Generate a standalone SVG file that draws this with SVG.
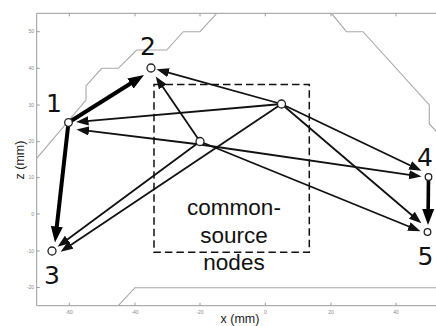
<svg xmlns="http://www.w3.org/2000/svg" width="436" height="326" viewBox="0 0 436 326">
  <style>
    .frame { stroke: #9a9a9a; stroke-width: 1; fill: none; }
    .tick { stroke: #9a9a9a; stroke-width: 1; }
    .ticklbl { font-family: "Liberation Sans", Arial, sans-serif; font-size: 5px; fill: #888; }
    .axlbl { font-family: "Liberation Sans", Arial, sans-serif; font-size: 12.5px; fill: #222; }
    .outline { stroke: #a8a8a8; stroke-width: 1.1; fill: none; }
    .box { stroke: #111; stroke-width: 1.5; fill: none; stroke-dasharray: 7.5 4; }
    .edge { stroke: #111; stroke-width: 1.8; fill: none; }
    .strong { stroke: #000; stroke-width: 4; fill: none; }
    .node { fill: #fff; stroke: #222; stroke-width: 1.3; }
    .num { font-family: "DejaVu Sans", sans-serif; font-size: 25px; fill: #111; text-anchor: middle; }
    .note { font-family: "Liberation Sans", Arial, sans-serif; font-size: 22.5px; fill: #111; text-anchor: middle; }
  </style>
  <defs>
    <marker id="head" markerUnits="userSpaceOnUse" markerWidth="13" markerHeight="10" refX="2" refY="4.6" orient="auto">
      <path d="M0,0 L12.5,4.6 L0,9.2 z" fill="#111"/>
    </marker>
    <marker id="headBig" markerUnits="userSpaceOnUse" markerWidth="16" markerHeight="12" refX="2" refY="6" orient="auto">
      <path d="M0,0 L16,6 L0,12 z" fill="#000"/>
    </marker>
  </defs>

  <!-- plot frame -->
  <g id="axes">
    <path class="frame" d="M436,13.3 H36.7 V305.7 H436"/>
    <g class="tick">
      <path d="M69.3,13.3 v3 M135,13.3 v3 M200,13.3 v3 M265.3,13.3 v3 M331,13.3 v3 M396,13.3 v3"/>
      <path d="M69.3,305.7 v-3 M135,305.7 v-3 M200,305.7 v-3 M265.3,305.7 v-3 M331,305.7 v-3 M396,305.7 v-3"/>
      <path d="M36.7,31.7 h3 M36.7,68.3 h3 M36.7,105 h3 M36.7,141.7 h3 M36.7,177.7 h3 M36.7,214 h3 M36.7,251 h3 M36.7,287.5 h3"/>
    </g>
    <g class="ticklbl" text-anchor="end">
      <text x="34" y="33.4">50</text>
      <text x="34" y="70">40</text>
      <text x="34" y="106.7">30</text>
      <text x="34" y="143.4">20</text>
      <text x="34" y="179.4">10</text>
      <text x="34" y="215.7">0</text>
      <text x="34" y="252.7">-10</text>
      <text x="34" y="289.2">-20</text>
    </g>
    <g class="ticklbl" text-anchor="middle">
      <text x="69.3" y="314">-60</text>
      <text x="135" y="314">-40</text>
      <text x="200" y="314">-20</text>
      <text x="265.3" y="314">0</text>
      <text x="331" y="314">20</text>
      <text x="396" y="314">40</text>
    </g>
    <text class="axlbl" x="240" y="322.5" text-anchor="middle">x (mm)</text>
    <text class="axlbl" transform="translate(24,160) rotate(-90)" text-anchor="middle">z (mm)</text>
  </g>

  <!-- boundary outline -->
  <g id="outline">
    <polyline class="outline" points="36.7,158.3 86,100 86,86 101.7,68.3 118.3,68.3 136.7,50 166.7,50 183.3,31.7 200,31.7 216.7,13.3"/>
    <polyline class="outline" points="331.5,13.3 346.5,31.7 363,31.7 429.3,105 429.3,124 436,131"/>
    <polyline class="outline" points="118.3,305.7 135,287.7 436,287.7"/>
  </g>

  <!-- common-source region -->
  <g id="source-region">
    <rect class="box" x="154" y="84.5" width="155.3" height="167.8"/>
    <text class="note" x="234" y="215">common-</text>
    <text class="note" x="234" y="242.5">source</text>
    <text class="note" x="234" y="270">nodes</text>
  </g>

  <!-- connectors -->
  <g id="connectors">
    <path class="strong" d="M68.5,122.5 L132.15,82.46" marker-end="url(#headBig)"/>
    <path class="strong" d="M68.5,122.5 L56.57,228.59" marker-end="url(#headBig)"/>
    <path class="strong" style="stroke-width:3.6" d="M428.5,177 L428.15,211" marker-end="url(#headBig)"/>

    <path class="edge" d="M281.5,104 L166.64,72.17" marker-end="url(#head)"/>
    <path class="edge" d="M200,141.5 L161.64,85.26" marker-end="url(#head)"/>
    <path class="edge" d="M281.5,104 L86.46,121.13" marker-end="url(#head)"/>
    <path class="edge" d="M200,144.5 L86.93,130.71" marker-end="url(#head)"/>
    <path class="edge" d="M200,144.5 L411.1,175.07" marker-end="url(#head)"/>
    <path class="edge" d="M281.5,104 L411.97,166.2" marker-end="url(#head)"/>
    <path class="edge" d="M281.5,104 L413.39,216.51" marker-end="url(#head)"/>
    <path class="edge" d="M200,141.5 L410.74,227.23" marker-end="url(#head)"/>
    <path class="edge" d="M200,141.5 L66.04,240.55" marker-end="url(#head)"/>
    <path class="edge" d="M281.5,104 L69.31,245.94" marker-end="url(#head)"/>
  </g>

  <!-- nodes -->
  <g id="node-1"><circle class="node" cx="68.5" cy="122.5" r="3.8"/><text class="num" x="54" y="112">1</text></g>
  <g id="node-2"><circle class="node" cx="151" cy="68" r="4"/><text class="num" x="148" y="54.5">2</text></g>
  <g id="node-3"><circle class="node" cx="52" cy="251" r="4"/><text class="num" x="52" y="284">3</text></g>
  <g id="node-4"><circle class="node" cx="428.5" cy="177" r="3.3"/><text class="num" x="425" y="166">4</text></g>
  <g id="node-5"><circle class="node" cx="427.5" cy="232" r="3.3"/><text class="num" x="425.5" y="265">5</text></g>
  <g id="node-a"><circle class="node" cx="200" cy="141.5" r="4"/></g>
  <g id="node-b"><circle class="node" cx="281.5" cy="104" r="4"/></g>
</svg>
